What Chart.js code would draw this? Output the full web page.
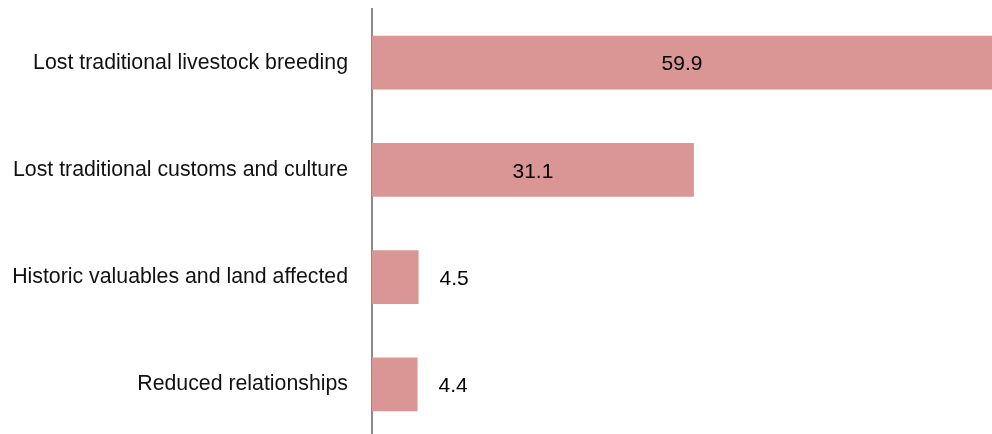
<!DOCTYPE html>
<html>
<head>
<meta charset="utf-8">
<script src="https://cdn.jsdelivr.net/npm/chart.js@4"></script>
<style>
  html, body { margin: 0; padding: 0; background: #fff; overflow: hidden; }
  #wrap { width: 992px; height: 440px; }
</style>
</head>
<body>
<div id="wrap"><canvas id="chart" width="992" height="440"></canvas></div>
<script>
const categories = [
  'Lost traditional livestock breeding',
  'Lost traditional customs and culture',
  'Historic valuables and land affected',
  'Reduced relationships'
];
const values = [59.9, 31.1, 4.5, 4.4];

const FONT = 'Liberation Sans, Arial, sans-serif';

// value labels: centred inside wide bars, just past the end of short ones
const valueLabels = {
  id: 'valueLabels',
  afterDatasetsDraw(chart) {
    const ctx = chart.ctx;
    const meta = chart.getDatasetMeta(0);
    ctx.save();
    ctx.font = '21px ' + FONT;
    ctx.fillStyle = '#000';
    ctx.textBaseline = 'middle';
    meta.data.forEach((bar, i) => {
      const txt = values[i].toFixed(1);
      const w = bar.x - bar.base;
      if (w > 100) {
        ctx.textAlign = 'center';
        ctx.fillText(txt, bar.base + w / 2, bar.y + 2);
      } else {
        ctx.textAlign = 'left';
        ctx.fillText(txt, bar.x + 21, bar.y + 2);
      }
    });
    ctx.restore();
  }
};

new Chart(document.getElementById('chart'), {
  type: 'bar',
  data: {
    labels: categories,
    datasets: [{
      data: values,
      backgroundColor: '#d99694',
      borderWidth: 0,
      barPercentage: 0.5,
      categoryPercentage: 1
    }]
  },
  options: {
    indexAxis: 'y',
    responsive: false,
    animation: false,
    layout: { padding: { top: 9, bottom: 2, left: 0, right: 0 } },
    plugins: { legend: { display: false }, tooltip: { enabled: false } },
    scales: {
      x: { display: false, min: 0, max: 59.9 },
      y: {
        grid: { display: false },
        border: { display: true, color: '#8a8a8a', width: 2 },
        ticks: { color: '#111', font: { family: FONT, size: 21.3 }, padding: 16 },
        afterFit(scale) {
          scale.width = 372;
          scale.paddingTop = 0;
          scale.paddingBottom = 0;
        }
      }
    }
  },
  plugins: [valueLabels]
});
</script>
</body>
</html>
